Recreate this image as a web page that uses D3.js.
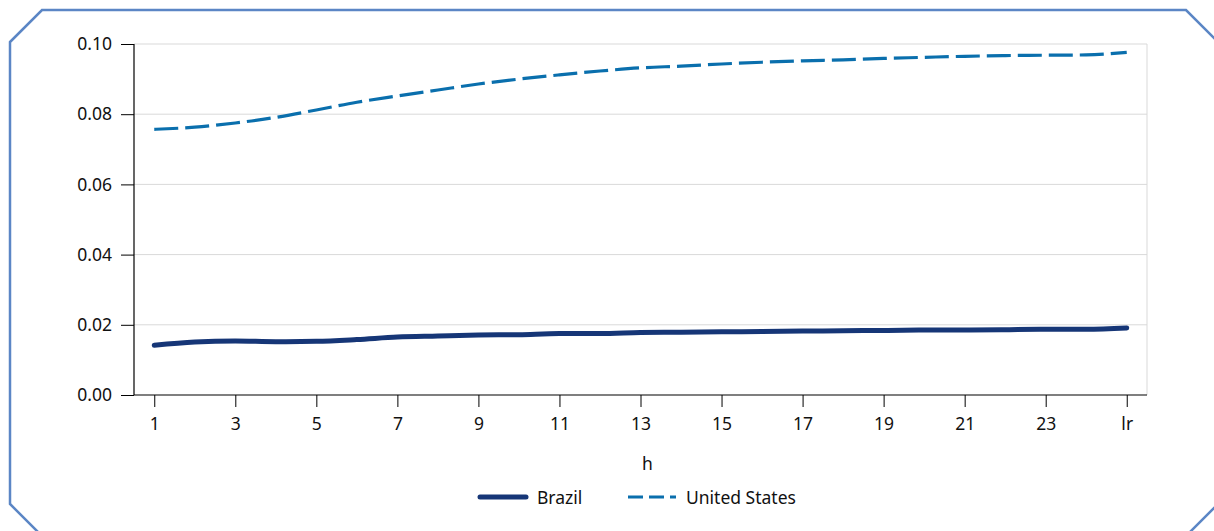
<!DOCTYPE html>
<html>
<head>
<meta charset="utf-8">
<script src="https://cdn.jsdelivr.net/npm/d3@7"></script>
<style>
  body { margin: 0; background: #fff; }
  svg { display: block; font-family: "Noto Sans", "Open Sans", sans-serif; }
</style>
</head>
<body>
<div id="chart"></div>
<script>
// horizons 1..24, then the long-run point
var horizons = d3.range(1, 26);
var tickValues = [1, 3, 5, 7, 9, 11, 13, 15, 17, 19, 21, 23, 25];
var tickLabels = ["1", "3", "5", "7", "9", "11", "13", "15", "17", "19", "21", "23", "lr"];
var yTicks = [0, 0.02, 0.04, 0.06, 0.08, 0.10];

var brazil = [0.0142, 0.0151, 0.0154, 0.0152, 0.0153, 0.0158, 0.0165, 0.0168, 0.0171, 0.0172,
              0.0175, 0.0175, 0.0178, 0.0179, 0.0180, 0.0181, 0.0182, 0.0183, 0.0184, 0.0185,
              0.0185, 0.0186, 0.0187, 0.0187, 0.0191];
var unitedStates = [0.0757, 0.0763, 0.0775, 0.0791, 0.0812, 0.0834, 0.0852, 0.0869, 0.0886, 0.0900,
                    0.0912, 0.0923, 0.0932, 0.0937, 0.0943, 0.0948, 0.0952, 0.0955, 0.0959, 0.0962,
                    0.0965, 0.0967, 0.0968, 0.0969, 0.0976];

var W = 1214, H = 531;
var margin = {top: 44, right: 67, bottom: 136, left: 134};
var width = W - margin.left - margin.right,
    height = H - margin.top - margin.bottom;
var fs = 17.5;

var svg = d3.select("#chart").append("svg")
  .attr("width", W)
  .attr("height", H);

// octagonal frame
var fx0 = 10, fy0 = 10, fx1 = 1218, fy1 = 536, c = 32;
svg.append("path")
  .attr("d", `M${fx0},${fy0 + c} L${fx0 + c},${fy0} L${fx1 - c},${fy0} L${fx1},${fy0 + c} L${fx1},${fy1 - c} L${fx1 - c},${fy1} L${fx0 + c},${fy1} L${fx0},${fy1 - c} Z`)
  .attr("fill", "none")
  .attr("stroke", "#5b86c5")
  .attr("stroke-width", 2.5);

var g = svg.append("g")
  .attr("transform", "translate(" + margin.left + "," + margin.top + ")");

var x = d3.scaleLinear().domain([0.5, 25.5]).range([0, width]);
var y = d3.scaleLinear().domain([0, 0.10]).range([height, 0]);

// grid
g.selectAll(".grid")
  .data(yTicks.slice(1))
  .join("line")
  .attr("x1", 0).attr("x2", width)
  .attr("y1", d => y(d)).attr("y2", d => y(d))
  .attr("stroke", "#d9d9d9")
  .attr("stroke-width", 1);

g.append("line")
  .attr("x1", width).attr("x2", width)
  .attr("y1", 0).attr("y2", height)
  .attr("stroke", "#d9d9d9");

// axes
var yAxis = g.append("g")
  .call(d3.axisLeft(y).tickValues(yTicks).tickFormat(d3.format(".2f")).tickSize(13).tickPadding(9));
var xAxis = g.append("g")
  .attr("transform", `translate(0,${height})`)
  .call(d3.axisBottom(x).tickValues(tickValues).tickFormat((d, i) => tickLabels[i]).tickSize(12).tickPadding(11));

[xAxis, yAxis].forEach(a => {
  a.attr("font-size", fs).attr("font-family", null);
  a.select(".domain").attr("stroke", "#000").attr("stroke-width", 1.2);
  a.selectAll(".tick line").attr("stroke", "#000");
  a.selectAll("text").attr("fill", "#111");
});
xAxis.select(".domain").attr("d", `M0,0H${width}`);
yAxis.select(".domain").attr("d", `M0,0V${height}`);

g.append("text")
  .attr("x", width / 2 + 7)
  .attr("y", height + 75)
  .attr("text-anchor", "middle")
  .attr("font-size", fs)
  .attr("fill", "#111")
  .text("h");

var line = d3.line()
  .x((d, i) => x(horizons[i]))
  .y(d => y(d))
  .curve(d3.curveMonotoneX);

g.append("path")
  .datum(unitedStates)
  .attr("d", line)
  .attr("fill", "none")
  .attr("stroke", "#0a6fad")
  .attr("stroke-width", 3.2)
  .attr("stroke-dasharray", "24,7");

g.append("path")
  .datum(brazil)
  .attr("d", line)
  .attr("fill", "none")
  .attr("stroke", "#163677")
  .attr("stroke-width", 5)
  .attr("stroke-linecap", "round");

// legend
var legend = svg.append("g").attr("transform", "translate(0,497)");
legend.append("line")
  .attr("x1", 480).attr("x2", 526).attr("y1", 0).attr("y2", 0)
  .attr("stroke", "#163677").attr("stroke-width", 5).attr("stroke-linecap", "round");
legend.append("text")
  .attr("x", 537).attr("y", 6.5)
  .attr("font-size", fs).attr("fill", "#111")
  .text("Brazil");
legend.append("line")
  .attr("x1", 628).attr("x2", 676).attr("y1", 0).attr("y2", 0)
  .attr("stroke", "#0a6fad").attr("stroke-width", 3)
  .attr("stroke-dasharray", "15,6");
legend.append("text")
  .attr("x", 686).attr("y", 6.5)
  .attr("font-size", fs).attr("fill", "#111")
  .text("United States");
</script>
</body>
</html>
